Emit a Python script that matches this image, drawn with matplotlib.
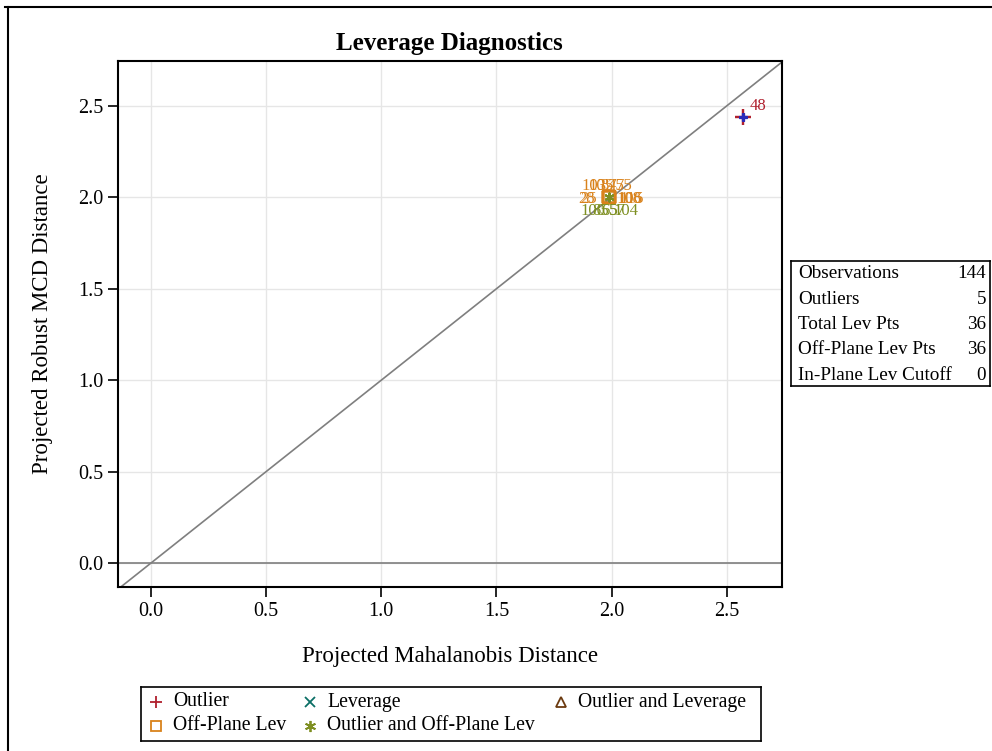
import numpy as np
import matplotlib.pyplot as plt
from matplotlib.lines import Line2D

plt.rcParams['font.family'] = ['Liberation Serif', 'DejaVu Serif']

# outlier points (all 5 sit on top of each other)
out_x = [2.569, 2.569, 2.569, 2.569, 2.569]
out_y = [2.440, 2.440, 2.440, 2.440, 2.440]
out_ids = ['48']

# off-plane leverage points
offp_x = [1.99, 1.99, 1.99, 1.99, 1.99, 1.99, 1.99, 1.99, 1.99, 1.99]
offp_y = [2.00, 2.00, 2.00, 2.00, 2.00, 2.00, 2.00, 2.00, 2.00, 2.00]
offp_ids = ['103', '105', '87', '45', '75', '28', '25', '108', '106', '115']

# outlier and off-plane leverage points
oop_x = [1.99, 1.99, 1.99, 1.99, 1.99]
oop_y = [2.00, 2.00, 2.00, 2.00, 2.00]
oop_ids = ['100', '85', '65', '57', '104']

# summary table
stat_names = ['Observations', 'Outliers', 'Total Lev Pts', 'Off-Plane Lev Pts', 'In-Plane Lev Cutoff']
stat_vals = [144, 5, 36, 36, 0]

c_out = '#B0202E'
c_lev = '#0B6F66'
c_olev = '#6B3A10'
c_offp = '#D9821B'
c_oop = '#7E8F22'

fig = plt.figure(figsize=(9.92, 7.51), dpi=100)
ax = fig.add_axes([0.119, 0.2184, 0.669, 0.7004])

ax.set_xlim(-0.143, 2.739)
ax.set_ylim(-0.131, 2.746)
ax.set_xticks([0.0, 0.5, 1.0, 1.5, 2.0, 2.5])
ax.set_yticks([0.0, 0.5, 1.0, 1.5, 2.0, 2.5])
ax.set_xticklabels(['0.0', '0.5', '1.0', '1.5', '2.0', '2.5'])
ax.set_yticklabels(['0.0', '0.5', '1.0', '1.5', '2.0', '2.5'])
ax.grid(True, color='#E6E6E6', lw=1)
ax.set_axisbelow(True)
ax.tick_params(direction='out', length=7, width=1.2, labelsize=14.5)
for s in ax.spines.values():
    s.set_linewidth(1.5)

# reference lines
ax.axline((0, 0), slope=1, color='#7F7F7F', lw=1.2, zorder=1)
ax.axhline(0, color='#7F7F7F', lw=1.2, zorder=1)

# points
ax.scatter(offp_x, offp_y, marker='s', s=75, facecolors='none', edgecolors=c_offp, lw=1.6, zorder=3)
ax.scatter(oop_x, oop_y, marker=(6, 2, 0), s=35, color=c_oop, lw=1.2, zorder=4)
ax.scatter(out_x, out_y, marker='+', s=120, color=c_out, lw=1.5, zorder=3)
ax.scatter(out_x, out_y, marker='+', s=40, color='#2B2BB8', lw=2.2, zorder=4)

# point labels
ax.annotate(out_ids[0], (out_x[0], out_y[0]), xytext=(5, 5), textcoords='offset points',
            color=c_out, fontsize=12)
offp_off = [(-11, 8), (-6, 8), (0, 8), (5, 8), (11, 8),
            (-16, -1), (-15, -1), (14, -1), (15, -1), (16, -1)]
for i, t in enumerate(offp_ids):
    ax.annotate(t, (offp_x[i], offp_y[i]), xytext=offp_off[i], textcoords='offset points',
                color=c_offp, fontsize=12, ha='center', va='center')
oop_off = [(-12, -9.5), (-6, -9.5), (0, -9.5), (6, -9.5), (12, -9.5)]
for i, t in enumerate(oop_ids):
    ax.annotate(t, (oop_x[i], oop_y[i]), xytext=oop_off[i], textcoords='offset points',
                color=c_oop, fontsize=12, ha='center', va='center')

ax.set_title('Leverage Diagnostics', fontsize=18, fontweight='bold', pad=8)
ax.set_xlabel('Projected Mahalanobis Distance', fontsize=16.5, labelpad=18)
ax.set_ylabel('Projected Robust MCD Distance', fontsize=16.5, labelpad=18)

# summary table box
tb = fig.add_axes([791 / 992, 1 - 386 / 751, 199 / 992, 125 / 751])
tb.set_xlim(0, 199)
tb.set_ylim(125, 0)
tb.set_xticks([])
tb.set_yticks([])
for s in tb.spines.values():
    s.set_linewidth(1.2)
for i, (n, v) in enumerate(zip(stat_names, stat_vals)):
    yy = 13 + i * 25.3
    tb.text(7, yy, n, fontsize=13.8, va='center', ha='left')
    tb.text(195, yy, str(v), fontsize=13.8, va='center', ha='right')

# legend box
lg = fig.add_axes([141 / 992, 1 - 741 / 751, 620 / 992, 54 / 751])
lg.set_xlim(0, 620)
lg.set_ylim(54, 0)
lg.set_xticks([])
lg.set_yticks([])
for s in lg.spines.values():
    s.set_linewidth(1.2)
leg_items = [
    ('+', c_out, 'Outlier', 15, 15, 9),
    ('x', c_lev, 'Leverage', 169, 15, 7),
    ('^', c_olev, 'Outlier and Leverage', 420, 15, 7),
    ('s', c_offp, 'Off-Plane Lev', 15, 39, 7),
    ((6, 2, 0), c_oop, 'Outlier and Off-Plane Lev', 169, 39, 8),
]
for m, c, lab, x0, y0, ms in leg_items:
    filled = m in ('+', 'x') or isinstance(m, tuple)
    lg.plot([x0], [y0], marker=m, ms=ms, color=c,
            mfc=c if filled else 'none', mec=c, mew=1.3, ls='none')
    lg.text(x0 + 17, y0, lab, fontsize=14.2, va='center', ha='left')

# outer frame
fig.add_artist(Line2D([5 / 992, 1], [1 - 7 / 751, 1 - 7 / 751], color='black', lw=1.5))
fig.add_artist(Line2D([8 / 992, 8 / 992], [0, 1 - 7 / 751], color='black', lw=1.5))

fig.savefig('out.png', dpi=100)
